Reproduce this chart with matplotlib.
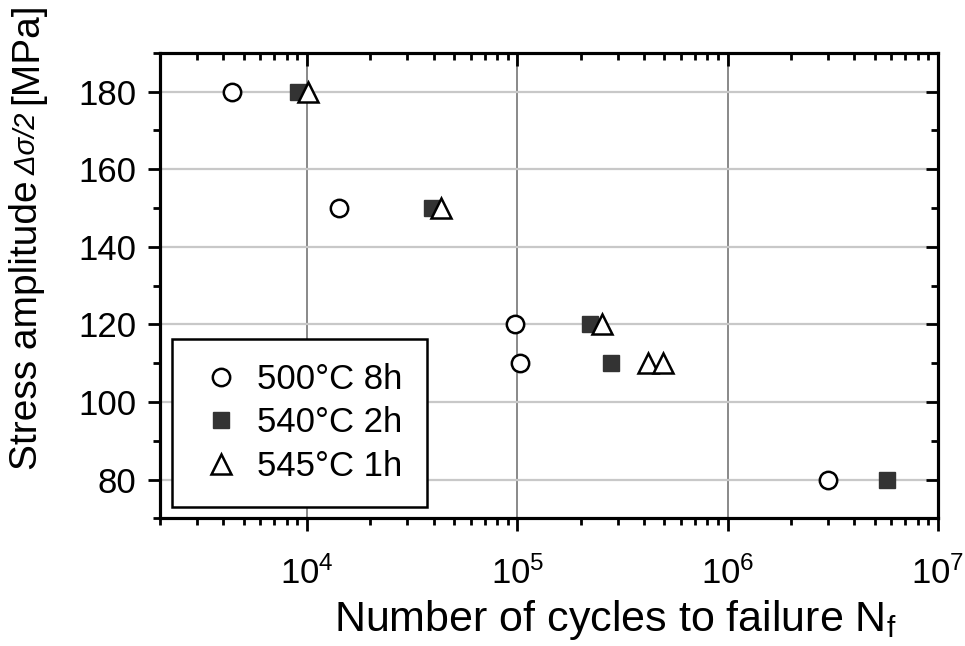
import matplotlib
matplotlib.use("Agg")
import matplotlib.pyplot as plt
from matplotlib.ticker import LogLocator, MultipleLocator, NullFormatter

plt.rcParams["font.family"] = ["Liberation Sans", "DejaVu Sans"]
plt.rcParams["mathtext.fontset"] = "custom"
plt.rcParams["mathtext.rm"] = "Liberation Sans"
plt.rcParams["mathtext.it"] = "Liberation Sans:italic"

# cycles to failure at each stress amplitude, one list per heat treatment
labels = ["500°C 8h", "540°C 2h", "545°C 1h"]
stress_500 = [180, 150, 120, 110, 80]
cycles_500 = [4400, 14200, 97000, 103000, 3.0e6]
stress_540 = [180, 150, 120, 110, 80]
cycles_540 = [9100, 39300, 221000, 279000, 5.7e6]
stress_545 = [180, 150, 120, 110, 110]
cycles_545 = [10080, 43500, 253000, 418000, 493000]

fig = plt.figure(figsize=(9.65, 6.46), dpi=100)
ax = fig.add_axes([0.1658, 0.1974, 0.972 - 0.1658, 0.9184 - 0.1974])

ax.plot(cycles_500, stress_500, "o", ms=12.5, mfc="white", mec="black", mew=1.8,
        label=labels[0], zorder=3)
ax.plot(cycles_540, stress_540, "s", ms=11.5, mfc="#333333", mec="#333333", mew=1,
        label=labels[1], zorder=3)
ax.plot(cycles_545, stress_545, "^", ms=14, mfc="white", mec="black", mew=1.8,
        label=labels[2], zorder=4)

ax.set_xscale("log")
ax.set_xlim(2000, 1e7)
ax.set_ylim(70, 190)
ax.yaxis.set_major_locator(MultipleLocator(20))
ax.yaxis.set_minor_locator(MultipleLocator(10))
ax.xaxis.set_major_locator(LogLocator(base=10, numticks=10))
ax.xaxis.set_minor_locator(LogLocator(base=10, subs=range(2, 10), numticks=20))
ax.xaxis.set_minor_formatter(NullFormatter())

# grid: light horizontal lines, darker decade lines
ax.yaxis.grid(True, which="major", color="#c8c8c8", lw=1.6)
ax.xaxis.grid(True, which="major", color="#808080", lw=1.3)
ax.set_axisbelow(True)

for s in ax.spines.values():
    s.set_linewidth(2.2)

ax.tick_params(axis="both", which="both", direction="out", width=2, labelsize=25)
ax.tick_params(axis="x", which="major", length=9, pad=18)
ax.tick_params(axis="x", which="minor", length=5)
ax.tick_params(axis="y", which="major", length=9, pad=8)
ax.tick_params(axis="y", which="minor", length=5)

# inward ticks on top and right
axt = ax.twiny()
axt.set_xscale("log")
axt.set_xlim(ax.get_xlim())
axt.xaxis.set_major_locator(LogLocator(base=10, numticks=10))
axt.xaxis.set_minor_locator(LogLocator(base=10, subs=range(2, 10), numticks=20))
axt.tick_params(axis="x", which="both", direction="in", width=2, labeltop=False)
axt.tick_params(axis="x", which="major", length=9)
axt.tick_params(axis="x", which="minor", length=5)

axr = ax.twinx()
axr.set_ylim(ax.get_ylim())
axr.yaxis.set_major_locator(MultipleLocator(20))
axr.yaxis.set_minor_locator(MultipleLocator(10))
axr.tick_params(axis="y", which="both", direction="in", width=2, labelright=False)
axr.tick_params(axis="y", which="major", length=9)
axr.tick_params(axis="y", which="minor", length=5)
for a in (axt, axr):
    for s in a.spines.values():
        s.set_linewidth(2.2)

ax.set_xlabel("Number of cycles to failure N$_\\mathregular{f}$", fontsize=31)
ax.xaxis.set_label_coords(0.585, -0.17)

# y label built from pieces so the symbol part can be smaller and italic
t1 = fig.text(0.028, 0.272, "Stress amplitude", rotation=90, fontsize=28,
              ha="center", va="bottom")
t2 = ax.annotate(" \u0394\u03c3/2 ", xy=(0.5, 1), xycoords=t1, rotation=90,
                 fontsize=21, style="italic", ha="center", va="bottom",
                 annotation_clip=False)
ax.annotate("[MPa]", xy=(0.5, 1), xycoords=t2, rotation=90, fontsize=28,
            ha="center", va="bottom", annotation_clip=False)

leg = ax.legend(loc="lower left", bbox_to_anchor=(0.0154, 0.0247), borderaxespad=0,
                fontsize=25, fancybox=False, edgecolor="black", framealpha=1,
                borderpad=0.7, labelspacing=0.3, handletextpad=0.35, handlelength=1.4,
                markerscale=1.0)
leg.get_frame().set_linewidth(1.8)
leg.set_zorder(10)

fig.savefig("out.png", dpi=100)
